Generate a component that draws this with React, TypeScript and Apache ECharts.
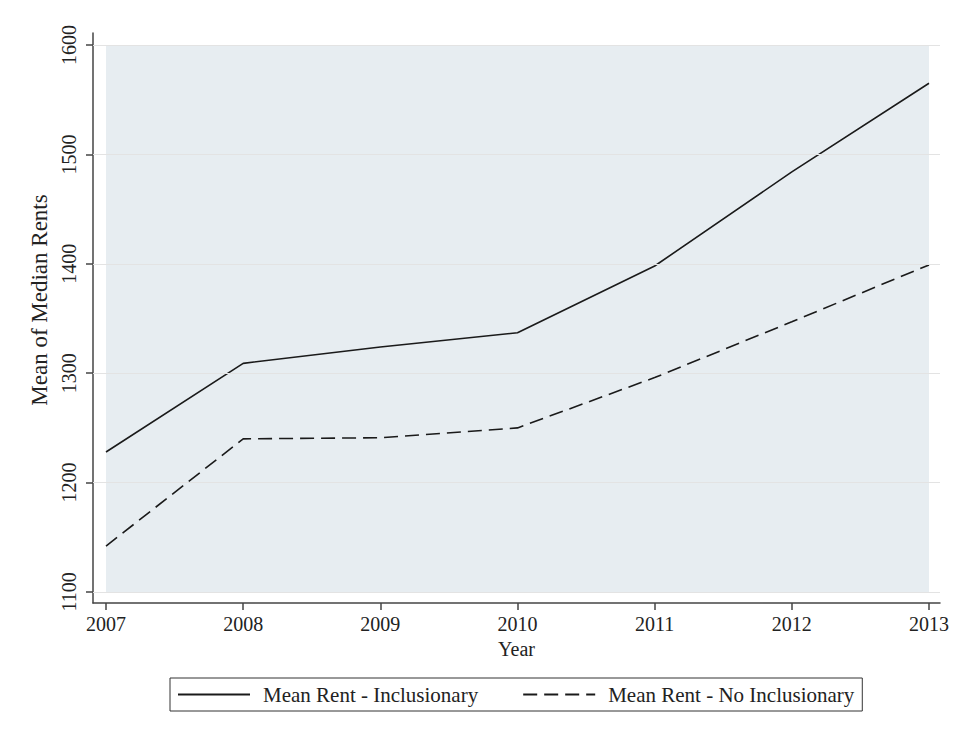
import React, { useEffect, useRef } from "react";
import * as echarts from "echarts";

const years = [2007, 2008, 2009, 2010, 2011, 2012, 2013];
const inclusionary = [1228, 1309, 1324, 1337, 1398, 1484, 1565];
const noInclusionary = [1142, 1240, 1241, 1250, 1296, 1347, 1399];
const yTicks = [1100, 1200, 1300, 1400, 1500, 1600];
const seriesNames = ["Mean Rent - Inclusionary", "Mean Rent - No Inclusionary"];

const FONT = "'Liberation Serif', 'DejaVu Serif', serif";

export default function App() {
  const ref = useRef<HTMLDivElement>(null);
  useEffect(() => {
    document.body.style.margin = "0";
    const chart = echarts.init(ref.current!, null, { renderer: "svg" });
    const pair = (vals: number[]) => years.map((y, i) => [y, vals[i]]);
    chart.setOption({
      animation: false,
      backgroundColor: "#ffffff",
      textStyle: { fontFamily: FONT },
      grid: { left: 93, right: 15, top: 33, bottom: 135, containLabel: false },
      legend: {
        data: seriesNames,
        left: 170,
        top: 678,
        orient: "horizontal",
        itemWidth: 72,
        itemHeight: 14,
        itemGap: 44,
        padding: [6, 8, 6, 7],
        borderColor: "#333333",
        borderWidth: 1,
        borderRadius: 0,
        itemStyle: { opacity: 0 },
        textStyle: { fontFamily: FONT, fontSize: 21, color: "#222", padding: [0, 0, 0, 8] },
      },
      xAxis: {
        type: "value",
        min: 2006.9052,
        max: 2013.0802,
        name: "Year",
        nameLocation: "middle",
        nameGap: 34,
        nameTextStyle: { fontFamily: FONT, fontSize: 20, color: "#222" },
        axisLine: { show: true, lineStyle: { color: "#444", width: 1.5 } },
        axisTick: { show: true, length: 7, customValues: years, lineStyle: { color: "#444", width: 1.5 } },
        axisLabel: {
          customValues: years,
          margin: 11,
          fontFamily: FONT,
          fontSize: 20,
          color: "#222",
          formatter: (v: number) => String(Math.round(v)),
        },
        splitLine: { show: false },
      },
      yAxis: {
        type: "value",
        min: 1089.945,
        max: 1610.969,
        name: "Mean of Median Rents",
        nameLocation: "middle",
        nameGap: 35,
        nameRotate: 90,
        nameTextStyle: { fontFamily: FONT, fontSize: 23, color: "#222", padding: [0, 0, 0, 36] },
        axisLine: { show: true, lineStyle: { color: "#444", width: 1.5 } },
        axisTick: { show: true, length: 7, customValues: yTicks, lineStyle: { color: "#444", width: 1.5 } },
        axisLabel: {
          customValues: yTicks,
          rotate: 90,
          margin: 14,
          fontFamily: FONT,
          fontSize: 20,
          color: "#222",
          formatter: (v: number) => String(Math.round(v)),
        },
        splitLine: { show: false },
      },
      series: [
        {
          name: "bg",
          type: "line",
          data: [],
          z: 1,
          silent: true,
          markArea: {
            silent: true,
            itemStyle: { color: "#e7edf1" },
            data: [[{ coord: [years[0], yTicks[0]] }, { coord: [years[years.length - 1], yTicks[yTicks.length - 1]] }]],
          },
        },
        {
          name: "grid",
          type: "line",
          data: [],
          z: 2,
          silent: true,
          markLine: {
            silent: true,
            symbol: ["none", "none"],
            label: { show: false },
            lineStyle: { color: "#e3e3e3", width: 1, type: "solid" },
            data: yTicks.map((v) => ({ yAxis: v })),
          },
        },
        {
          name: seriesNames[0],
          type: "line",
          z: 3,
          symbol: "none",
          data: pair(inclusionary),
          lineStyle: { color: "#1a1a1a", width: 1.6, type: "solid" },
          itemStyle: { color: "#1a1a1a" },
        },
        {
          name: seriesNames[1],
          type: "line",
          z: 3,
          symbol: "none",
          data: pair(noInclusionary),
          lineStyle: { color: "#1a1a1a", width: 1.6, type: [14, 7] },
          itemStyle: { color: "#1a1a1a" },
        },
      ],
    });
    return () => chart.dispose();
  }, []);
  return <div ref={ref} style={{ width: 955, height: 738 }} />;
}
